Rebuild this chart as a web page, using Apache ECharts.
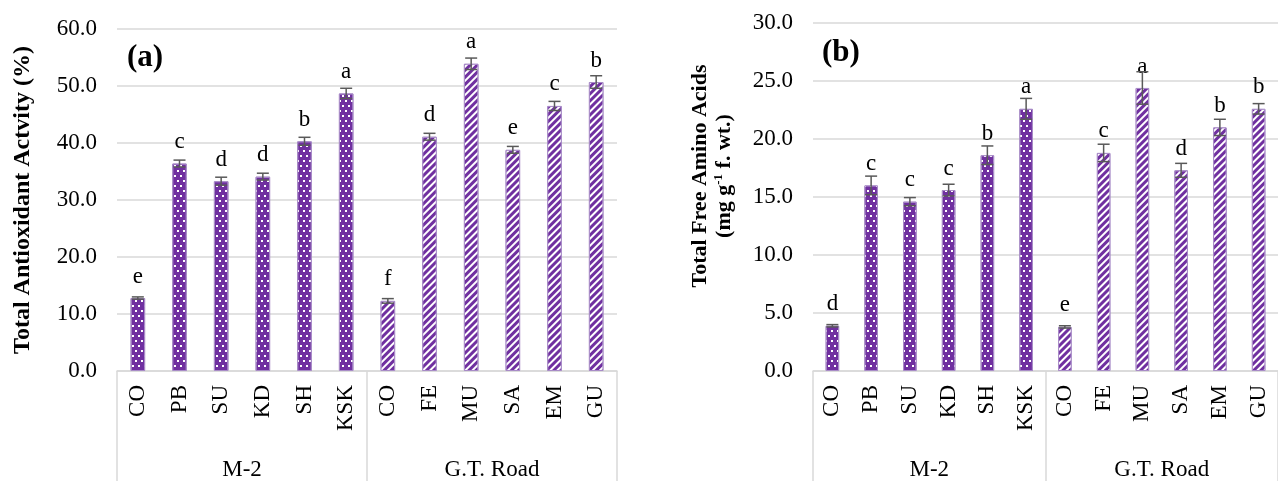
<!DOCTYPE html>
<html>
<head>
<meta charset="utf-8">
<script src="https://cdn.jsdelivr.net/npm/echarts@6/dist/echarts.min.js"></script>
<style>
  html, body { margin: 0; padding: 0; background: #fff; }
  #chart { width: 1278px; height: 481px; }
</style>
</head>
<body>
<div id="chart"></div>
<script>
// categories and groups
var categories = ['CO', 'PB', 'SU', 'KD', 'SH', 'KSK', 'CO', 'FE', 'MU', 'SA', 'EM', 'GU'];
var groups = ['M-2', 'G.T. Road'];

// (a) total antioxidant activity (%)
var antioxM2 = [12.8, 36.4, 33.3, 34.1, 40.3, 48.7];
var antioxGT = [12.3, 41.1, 53.9, 38.8, 46.5, 50.7];
var antioxErrM2 = [0.2, 0.6, 0.7, 0.6, 0.7, 0.9];
var antioxErrGT = [0.4, 0.6, 1.0, 0.6, 0.8, 1.1];
var antioxLetters = ['e', 'c', 'd', 'd', 'b', 'a', 'f', 'd', 'a', 'e', 'c', 'b'];

// (b) total free amino acids (mg g-1 f. wt.)
var aminoM2 = [3.9, 16.0, 14.6, 15.6, 18.6, 22.6];
var aminoGT = [3.8, 18.8, 24.4, 17.3, 21.0, 22.6];
var aminoErrM2 = [0.1, 0.8, 0.35, 0.5, 0.8, 0.9];
var aminoErrGT = [0.1, 0.75, 1.4, 0.6, 0.7, 0.45];
var aminoLetters = ['d', 'c', 'c', 'c', 'b', 'a', 'e', 'c', 'a', 'd', 'b', 'b'];

var FONT = 'Liberation Serif';
var PURPLE = '#7030A0';

// staggered white dots for M-2, white diagonal stripes for G.T. Road
var dots = { symbol: 'rect', symbolSize: 1, color: '#fff', dashArrayX: [[2, 4], [0, 3, 2, 1]], dashArrayY: [2, 3] };
var stripes = { symbol: 'rect', symbolSize: 1, color: '#fff', dashArrayX: [1, 0], dashArrayY: [2, 2.4], rotation: -Math.PI / 4 };

function pad(arr, before) {
  var empty = [null, null, null, null, null, null];
  return before ? empty.concat(arr) : arr.concat(empty);
}

function errData(m2, gt, e1, e2) {
  var vals = m2.concat(gt), errs = e1.concat(e2);
  return vals.map(function (v, i) { return [i, v - errs[i], v + errs[i]]; });
}

function renderErr(params, api) {
  var x = api.value(0);
  var lo = api.coord([x, api.value(1)]);
  var hi = api.coord([x, api.value(2)]);
  var w = 6;
  var style = { stroke: '#595959', lineWidth: 1.5 };
  return {
    type: 'group',
    children: [
      { type: 'line', shape: { x1: hi[0], y1: hi[1], x2: lo[0], y2: lo[1] }, style: style },
      { type: 'line', shape: { x1: hi[0] - w, y1: hi[1], x2: hi[0] + w, y2: hi[1] }, style: style },
      { type: 'line', shape: { x1: lo[0] - w, y1: lo[1], x2: lo[0] + w, y2: lo[1] }, style: style }
    ]
  };
}

function barSeries(data, axisIdx, decal, letters) {
  return {
    type: 'bar',
    xAxisIndex: axisIdx * 2,
    yAxisIndex: axisIdx,
    data: data,
    barWidth: '35%',
    barGap: '-100%',
    itemStyle: { color: PURPLE, borderColor: '#a88bc7', borderWidth: 1, decal: decal },
    label: {
      show: true,
      position: 'top',
      distance: 10,
      fontFamily: FONT,
      fontSize: 23,
      color: '#000',
      formatter: function (p) { return letters[p.dataIndex]; }
    }
  };
}

function catAxis(gridIdx) {
  return {
    type: 'category',
    gridIndex: gridIdx,
    data: categories,
    axisLine: { lineStyle: { color: '#d9d9d9', width: 1.5 } },
    axisTick: { show: false },
    axisLabel: { rotate: 90, margin: 14, fontFamily: FONT, fontSize: 23, color: '#000' }
  };
}

function groupAxis(gridIdx) {
  return {
    type: 'category',
    gridIndex: gridIdx,
    position: 'bottom',
    data: groups,
    axisLine: { show: false },
    axisTick: { show: true, length: 112, lineStyle: { color: '#d9d9d9', width: 1.5 } },
    axisLabel: { margin: 87, fontFamily: FONT, fontSize: 23, color: '#000' }
  };
}

function valAxis(gridIdx, max, interval) {
  return {
    type: 'value',
    gridIndex: gridIdx,
    min: 0,
    max: max,
    interval: interval,
    axisLine: { show: false },
    axisTick: { show: false },
    splitLine: { lineStyle: { color: '#d9d9d9', width: 1.5 } },
    axisLabel: {
      margin: 20, fontFamily: FONT, fontSize: 23, color: '#000',
      formatter: function (v) { return v.toFixed(1); }
    }
  };
}

var chart = echarts.init(document.getElementById('chart'));

var option = {
  animation: false,
  grid: [
    { left: 117, right: 661, top: 29, bottom: 110 },
    { left: 813, right: -11, top: 23, bottom: 109 }
  ],
  xAxis: [catAxis(0), groupAxis(0), catAxis(1), groupAxis(1)],
  yAxis: [valAxis(0, 60, 10), valAxis(1, 30, 5)],
  graphic: [
    {
      type: 'text', x: 23, y: 200, rotation: Math.PI / 2,
      style: {
        text: 'Total Antioxidant Actvity (%)', fontFamily: FONT, fontSize: 24,
        fontWeight: 'bold', fill: '#000', align: 'center', verticalAlign: 'middle'
      }
    },
    {
      type: 'text', x: 700, y: 176, rotation: Math.PI / 2,
      style: {
        text: 'Total Free Amino Acids', fontFamily: FONT, fontSize: 22,
        fontWeight: 'bold', fill: '#000', align: 'center', verticalAlign: 'middle'
      }
    },
    {
      type: 'text', x: 724, y: 176, rotation: Math.PI / 2,
      style: {
        text: '{b|(mg g}{s|-1}{b| f. wt.)}', align: 'center', verticalAlign: 'middle',
        rich: {
          b: { fontFamily: FONT, fontSize: 22, fontWeight: 'bold', fill: '#000', color: '#000' },
          s: { fontFamily: FONT, fontSize: 13, fontWeight: 'bold', fill: '#000', color: '#000', verticalAlign: 'top', padding: [0, 0, 10, 0] }
        }
      }
    },
    {
      type: 'text', x: 127, y: 58,
      style: { text: '(a)', fontFamily: FONT, fontSize: 31, fontWeight: 'bold', fill: '#000', verticalAlign: 'middle' }
    },
    {
      type: 'text', x: 822, y: 53,
      style: { text: '(b)', fontFamily: FONT, fontSize: 31, fontWeight: 'bold', fill: '#000', verticalAlign: 'middle' }
    }
  ],
  series: [
    barSeries(pad(antioxM2, false), 0, dots, antioxLetters),
    barSeries(pad(antioxGT, true), 0, stripes, antioxLetters),
    {
      type: 'custom', xAxisIndex: 0, yAxisIndex: 0, z: 5,
      renderItem: renderErr, encode: { x: 0, y: [1, 2] },
      data: errData(antioxM2, antioxGT, antioxErrM2, antioxErrGT)
    },
    barSeries(pad(aminoM2, false), 1, dots, aminoLetters),
    barSeries(pad(aminoGT, true), 1, stripes, aminoLetters),
    {
      type: 'custom', xAxisIndex: 2, yAxisIndex: 1, z: 5,
      renderItem: renderErr, encode: { x: 0, y: [1, 2] },
      data: errData(aminoM2, aminoGT, aminoErrM2, aminoErrGT)
    }
  ]
};

chart.setOption(option);
</script>
</body>
</html>
